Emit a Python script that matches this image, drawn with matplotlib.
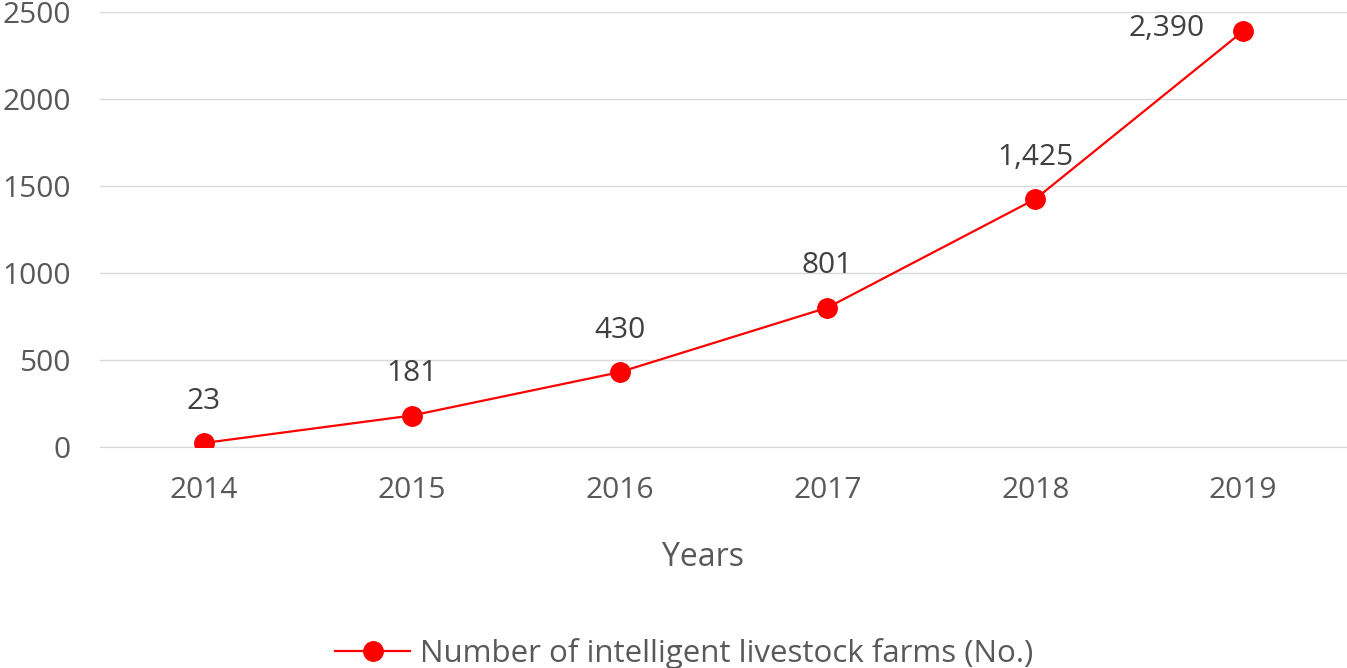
import matplotlib
matplotlib.use("Agg")
from matplotlib import pyplot as plt
from matplotlib.lines import Line2D

plt.rcParams['font.family'] = ['Open Sans', 'DejaVu Sans']

years = ['2014', '2015', '2016', '2017', '2018', '2019']
farms = [23, 181, 430, 801, 1425, 2390]
series_name = 'Number of intelligent livestock farms (No.)'
yticks = [0, 500, 1000, 1500, 2000, 2500]

red = '#ff0000'
grid_col = '#d9d9d9'
tick_col = '#595959'
label_col = '#404040'
fs = 21.5

fig = plt.figure(figsize=(13.47, 6.68), dpi=100)
ax = fig.add_axes([0.0742, 0.3308, 0.9258, 0.6512])

x = list(range(len(years)))
ax.plot(x, farms, '-', color=red, lw=1.6, marker='o', ms=14, zorder=3)

# data labels (last one sits to the left, like Excel does near the top)
for i, v in enumerate(farms):
    txt = f"{v:,}"
    if i == len(farms) - 1:
        ax.annotate(txt, (i, v), xytext=(-55, 2), textcoords='offset points',
                    ha='center', va='center', fontsize=fs, color=label_col)
    else:
        ax.annotate(txt, (i, v), xytext=(0, 30), textcoords='offset points',
                    ha='center', va='center', fontsize=fs, color=label_col)

ax.set_xlim(-0.5, len(years) - 0.5)
ax.set_ylim(0, 2500)
ax.set_xticks(x)
ax.set_xticklabels(years)
ax.set_yticks(yticks)
ax.tick_params(axis='both', length=0, labelsize=fs, labelcolor=tick_col)
ax.tick_params(axis='x', pad=21)
ax.tick_params(axis='y', pad=21)
ax.grid(axis='y', color=grid_col, lw=1)
ax.set_axisbelow(True)
for s in ['top', 'right', 'left']:
    ax.spines[s].set_visible(False)
ax.spines['bottom'].set_color(grid_col)

fig.text(703 / 1347, 1 - 557 / 668, 'Years', fontsize=23, color=tick_col,
         ha='center', va='center')

handle = Line2D([], [], color=red, lw=1.6, marker='o', ms=14)
fig.legend([handle], [series_name], loc='center', bbox_to_anchor=(0.508, 0.022),
           frameon=False, fontsize=22.5, labelcolor=tick_col, handlelength=2.4,
           handletextpad=0.3)

fig.savefig('out.png', dpi=100)
